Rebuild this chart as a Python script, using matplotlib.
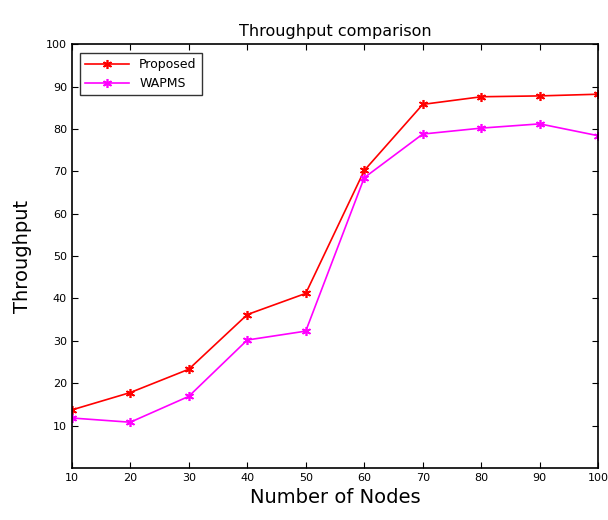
import matplotlib
matplotlib.use("Agg")
import matplotlib.pyplot as plt

# Data
nodes = [10, 20, 30, 40, 50, 60, 70, 80, 90, 100]
proposed = [13.7, 17.8, 23.3, 36.2, 41.2, 70.2, 85.8, 87.6, 87.8, 88.2]
wapms = [11.8, 10.8, 16.9, 30.2, 32.3, 68.5, 78.8, 80.2, 81.2, 78.4]

fig = plt.figure(figsize=(6.08, 5.2), dpi=100)
ax = fig.add_axes([0.118, 0.1, 0.866, 0.815])

star = (6, 2, 0)  # asterisk-like marker
ax.plot(nodes, proposed, color="red", marker=star, ms=6.5, mew=1.2, lw=1.2, label="Proposed")
ax.plot(nodes, wapms, color="magenta", marker=star, ms=6.5, mew=1.2, lw=1.2, label="WAPMS")

ax.set_xlim(10, 100)
ax.set_ylim(0, 100)
ax.set_xticks(nodes)
ax.set_yticks(range(10, 101, 10))
ax.tick_params(direction="in", top=True, right=True, labelsize=8, length=4)
for s in ax.spines.values():
    s.set_linewidth(1.2)

ax.set_title("Throughput comparison", fontsize=11.5)
ax.set_xlabel("Number of Nodes", fontsize=14)
ax.set_ylabel("Throughput", fontsize=14, labelpad=10)

leg = ax.legend(loc="upper left", fontsize=9, fancybox=False, edgecolor="black",
                borderaxespad=0.7, handlelength=3.5)
leg.get_frame().set_linewidth(1.0)

fig.savefig("out.png", dpi=100)
